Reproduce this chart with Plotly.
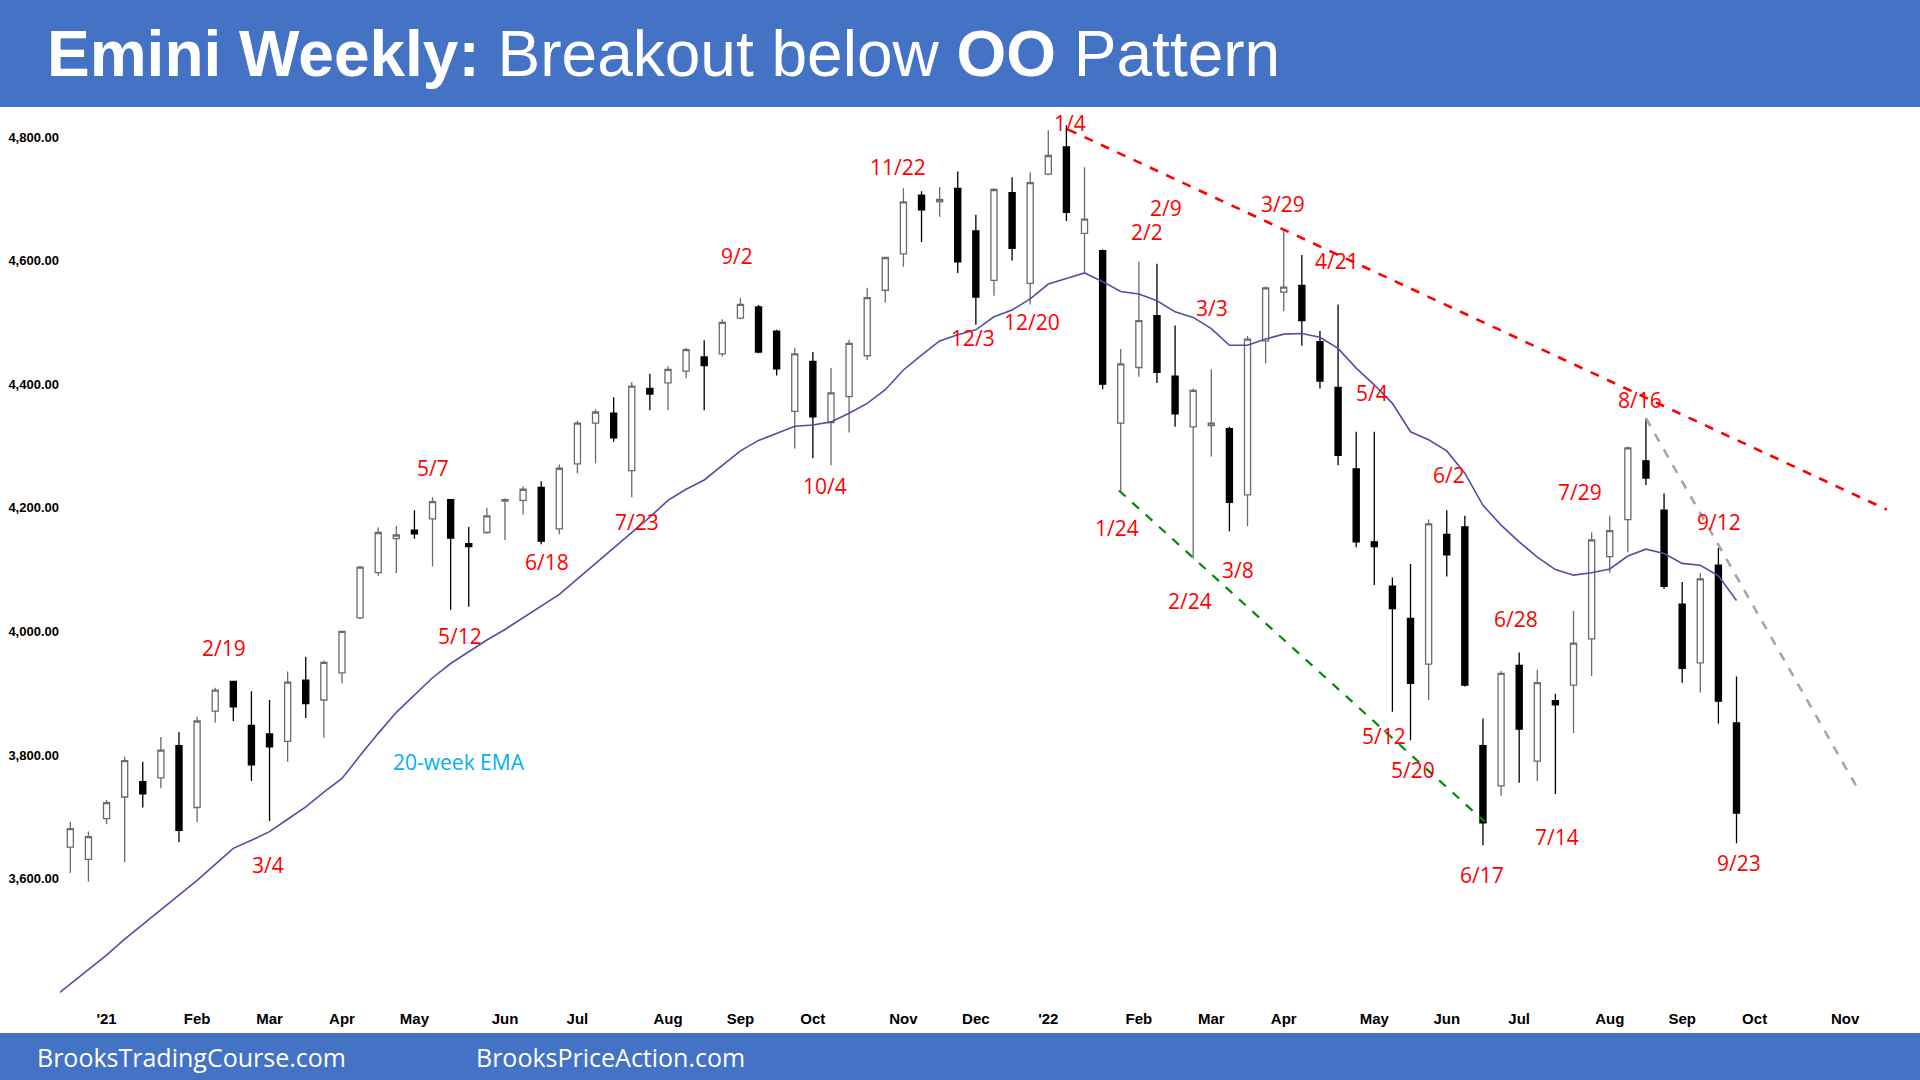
import pandas as pd
import plotly.graph_objects as go

# ---------------- data ----------------
first_week = "2020-12-14"   # Monday of the first weekly bar (week index -2)
week0 = pd.Timestamp("2020-12-28")  # week index 0 (bar labelled '21)

opens = [3651, 3631, 3697, 3732, 3757, 3763, 3815, 3715, 3871, 3919, 3848, 3834, 3822, 3921, 3889, 3933,
         4022, 4095, 4150, 4164, 4182, 4213, 4142, 4160, 4211, 4212, 4233, 4166, 4271, 4337, 4353, 4260,
         4393, 4402, 4421, 4444, 4449, 4507, 4525, 4486, 4356, 4437, 4338, 4380, 4446, 4552, 4611, 4706,
         4695, 4717, 4648, 4568, 4710, 4563, 4740, 4784, 4644, 4616, 4337, 4427, 4511, 4413, 4331, 4333,
         4328, 4221, 4470, 4549, 4560, 4469, 4395, 4263, 4145, 4073, 4021, 3947, 4157, 4169, 3815, 3750,
         3945, 3790, 3888, 3913, 3988, 4121, 4181, 4276, 4196, 4044, 3949, 4107, 3852]
highs = [3692, 3676, 3727, 3797, 3789, 3829, 3837, 3862, 3909, 3920, 3903, 3889, 3935, 3959, 3953, 4001,
         4106, 4168, 4171, 4196, 4217, 4214, 4169, 4200, 4215, 4235, 4243, 4270, 4341, 4359, 4379, 4403,
         4417, 4429, 4459, 4471, 4505, 4540, 4528, 4488, 4459, 4452, 4426, 4472, 4556, 4606, 4717, 4712,
         4719, 4744, 4674, 4717, 4735, 4743, 4811, 4819, 4751, 4618, 4457, 4598, 4595, 4495, 4393, 4424,
         4331, 4478, 4558, 4651, 4609, 4486, 4529, 4323, 4323, 4087, 4109, 4181, 4196, 4187, 3859, 3936,
         3966, 3938, 3899, 4033, 4160, 4187, 4299, 4345, 4223, 4080, 4094, 4135, 3927]
lows = [3609, 3595, 3688, 3627, 3715, 3746, 3659, 3691, 3852, 3855, 3758, 3693, 3789, 3860, 3828, 3916,
        4020, 4090, 4094, 4150, 4105, 4035, 4040, 4158, 4148, 4189, 4141, 4157, 4256, 4272, 4307, 4217,
        4358, 4358, 4410, 4358, 4445, 4505, 4450, 4414, 4296, 4280, 4269, 4322, 4439, 4532, 4590, 4630,
        4671, 4580, 4496, 4543, 4600, 4529, 4738, 4664, 4581, 4392, 4226, 4412, 4402, 4331, 4118, 4283,
        4162, 4170, 4434, 4518, 4462, 4393, 4269, 4136, 4075, 3870, 3824, 3889, 4089, 3911, 3654, 3734,
        3755, 3758, 3737, 3835, 3928, 4095, 4128, 4237, 4069, 3917, 3901, 3851, 3657]
closes = [3681, 3668, 3723, 3791, 3737, 3808, 3678, 3855, 3905, 3878, 3784, 3813, 3918, 3883, 3950, 4000,
          4104, 4160, 4156, 4158, 4210, 4151, 4137, 4187, 4213, 4230, 4146, 4264, 4337, 4355, 4313, 4397,
          4384, 4424, 4456, 4430, 4500, 4529, 4452, 4425, 4449, 4347, 4386, 4466, 4540, 4605, 4695, 4682,
          4699, 4598, 4541, 4715, 4620, 4726, 4770, 4678, 4667, 4400, 4433, 4503, 4419, 4352, 4390, 4337,
          4209, 4473, 4556, 4557, 4503, 4405, 4285, 4145, 4137, 4037, 3916, 4174, 4124, 3913, 3690, 3932,
          3842, 3917, 3881, 3981, 4148, 4163, 4297, 4248, 4073, 3940, 4085, 3887, 3706]

# 20-week EMA, starting one week before the first visible bar (clipped at the left edge)
ema_first_week = "2020-12-07"
ema20 = [3406,
         3429, 3452, 3476, 3502, 3526, 3549, 3573, 3597, 3623, 3649, 3662, 3676, 3696, 3716, 3740, 3762,
         3799, 3835, 3869, 3897, 3925, 3948, 3967, 3986, 4003, 4022, 4042, 4060, 4085, 4110, 4135, 4159,
         4185, 4212, 4230, 4245, 4268, 4292, 4309, 4320, 4332, 4334, 4339, 4353, 4369, 4391, 4423, 4447,
         4470, 4480, 4488, 4509, 4520, 4538, 4562, 4571, 4580, 4566, 4550, 4546, 4535, 4517, 4508, 4490,
         4463, 4463, 4473, 4481, 4482, 4476, 4458, 4426, 4399, 4369, 4323, 4310, 4292, 4256, 4204, 4172,
         4145, 4120, 4100, 4091, 4095, 4101, 4122, 4133, 4126, 4110, 4107, 4090, 4050]

# month tick labels: (week index of the bar carrying the label, label)
month_weeks = [0, 5, 9, 13, 17, 22, 26, 31, 35, 39, 44, 48, 52, 57, 61, 65, 70, 74, 78, 83, 87, 91, 96]
month_labels = ["'21", "Feb", "Mar", "Apr", "May", "Jun", "Jul", "Aug", "Sep", "Oct", "Nov", "Dec",
                "'22", "Feb", "Mar", "Apr", "May", "Jun", "Jul", "Aug", "Sep", "Oct", "Nov"]

y_ticks = [3600, 3800, 4000, 4200, 4400, 4600, 4800]

# trend lines: (week index, price) end points
red_line_weeks = [53.1, 98.3]
red_line_prices = [4812, 4197]
green_line_weeks = [55.9, 76.1]
green_line_prices = [4228, 3692]
gray_line_weeks = [85.0, 96.8]
gray_line_prices = [4345, 3740]

# date labels: text, week index, price
date_labels = [
    ("2/19", 6.5, 3973), ("3/4", 8.93, 3622), ("5/7", 18.05, 4264), ("5/12", 19.54, 3993),
    ("6/18", 24.34, 4113), ("7/23", 29.28, 4177), ("9/2", 34.82, 4608), ("10/4", 39.67, 4235),
    ("11/22", 43.72, 4751), ("12/3", 47.83, 4474), ("12/20", 51.12, 4501), ("1/4", 53.2, 4823),
    ("2/9", 58.49, 4685), ("2/2", 57.44, 4647), ("1/24", 55.78, 4168), ("3/3", 61.03, 4523),
    ("2/24", 59.84, 4049), ("3/8", 62.46, 4100), ("3/29", 64.95, 4692), ("4/21", 67.93, 4599),
    ("5/4", 69.9, 4386), ("6/2", 74.15, 4253), ("5/12", 70.52, 3831), ("5/20", 72.16, 3776),
    ("6/17", 75.97, 3606), ("6/28", 77.81, 4020), ("7/14", 80.08, 3667), ("7/29", 81.34, 4226),
    ("8/16", 84.68, 4374), ("9/12", 89.06, 4177), ("9/23", 90.16, 3625),
]
ema_label = ("20-week EMA", 19.47, 3789)

# ---------------- helpers ----------------
weeks = pd.date_range(first_week, periods=len(opens), freq="7D")
ema_weeks = pd.date_range(ema_first_week, periods=len(ema20), freq="7D")


def wk(i):
    return week0 + pd.Timedelta(days=7 * i)


W, H = 1920, 1080
ML, MR, MT, MB = 60, 8, 108, 72
PW, PH = W - ML - MR, H - MT - MB


def px(x):
    return (x - ML) / PW


def py(y):
    return (H - MB - y) / PH


BLUE = "#4472C4"
LABEL_FONT = "Open Sans, Noto Sans, sans-serif"
AXIS_FONT = "Liberation Sans, Arial, sans-serif"

fig = go.Figure()

fig.add_trace(go.Candlestick(
    x=weeks, open=opens, high=highs, low=lows, close=closes,
    increasing=dict(line=dict(color="#6b6b6b", width=1.3), fillcolor="#ffffff"),
    decreasing=dict(line=dict(color="#000000", width=1.3), fillcolor="#000000"),
    whiskerwidth=0, showlegend=False, hoverinfo="skip",
))

fig.add_trace(go.Scatter(x=ema_weeks, y=ema20, mode="lines",
                         line=dict(color="#4f4fa6", width=1.6), showlegend=False, hoverinfo="skip"))

for xs, ys, col, w in [(red_line_weeks, red_line_prices, "#ff0000", 2.6),
                       (green_line_weeks, green_line_prices, "#008a00", 2.2),
                       (gray_line_weeks, gray_line_prices, "#a6a6a6", 2.6)]:
    fig.add_trace(go.Scatter(x=[wk(v) for v in xs], y=ys, mode="lines",
                             line=dict(color=col, width=w, dash="dash"),
                             showlegend=False, hoverinfo="skip"))

annotations = []
for text, wi, price in date_labels:
    annotations.append(dict(x=wk(wi), y=price, xref="x", yref="y", text=text, showarrow=False,
                            font=dict(family=LABEL_FONT, size=21, color="#ff0000"),
                            xanchor="center", yanchor="middle"))
annotations.append(dict(x=wk(ema_label[1]), y=ema_label[2], xref="x", yref="y", text=ema_label[0],
                        showarrow=False, font=dict(family=LABEL_FONT, size=21, color="#00b0f0"),
                        xanchor="center", yanchor="middle"))

# title
annotations.append(dict(x=px(45), y=py(54), xref="paper", yref="paper", xanchor="left", yanchor="middle",
                        text="<b>Emini Weekly:</b> Breakout below <b>OO</b> Pattern", showarrow=False,
                        font=dict(family="Liberation Sans, Arial, sans-serif", size=64, color="#ffffff")))
# footer
annotations.append(dict(x=px(35), y=py(1057), xref="paper", yref="paper", xanchor="left", yanchor="middle",
                        text="BrooksTradingCourse.com", showarrow=False,
                        font=dict(family=LABEL_FONT, size=25, color="#ffffff")))
annotations.append(dict(x=px(474), y=py(1057), xref="paper", yref="paper", xanchor="left", yanchor="middle",
                        text="BrooksPriceAction.com", showarrow=False,
                        font=dict(family=LABEL_FONT, size=25, color="#ffffff")))

shapes = [
    dict(type="rect", xref="paper", yref="paper", x0=px(-20), x1=px(W + 20), y0=py(107), y1=py(-20),
         fillcolor=BLUE, line=dict(width=0), layer="below"),
    dict(type="rect", xref="paper", yref="paper", x0=px(-20), x1=px(W + 20), y0=py(H + 20), y1=py(1033),
         fillcolor=BLUE, line=dict(width=0), layer="below"),
]

fig.update_layout(
    width=W, height=H,
    margin=dict(l=ML, r=MR, t=MT, b=MB, pad=0),
    paper_bgcolor="#ffffff", plot_bgcolor="#ffffff",
    boxgap=0.52,
    annotations=annotations, shapes=shapes,
    showlegend=False,
    xaxis=dict(
        type="date", range=[wk(-2.57), wk(99.69)],
        tickvals=[wk(m) for m in month_weeks],
        ticktext=[f"<b>{t}</b>" for t in month_labels],
        showgrid=False, zeroline=False, showline=False, ticks="",
        rangeslider=dict(visible=False),
        tickfont=dict(family=AXIS_FONT, size=15, color="#000000"),
        tickangle=0,
    ),
    yaxis=dict(
        range=[3390.6, 4846.9], tickvals=y_ticks,
        ticktext=[f"<b>{v:,.2f}</b>" for v in y_ticks],
        showgrid=False, zeroline=False, showline=False, ticks="",
        tickfont=dict(family=AXIS_FONT, size=13, color="#000000"),
    ),
)

fig.write_html(
    "out.html",
    config={"displayModeBar": False},
    post_script=(
        "document.documentElement.style.margin='0';"
        "document.body.style.margin='0';document.body.style.padding='0';"
        "document.body.style.overflow='hidden';"
        "var d=document.getElementById('{plot_id}');"
        "d.style.position='absolute';d.style.left='0px';d.style.top='0px';"
    ),
)
